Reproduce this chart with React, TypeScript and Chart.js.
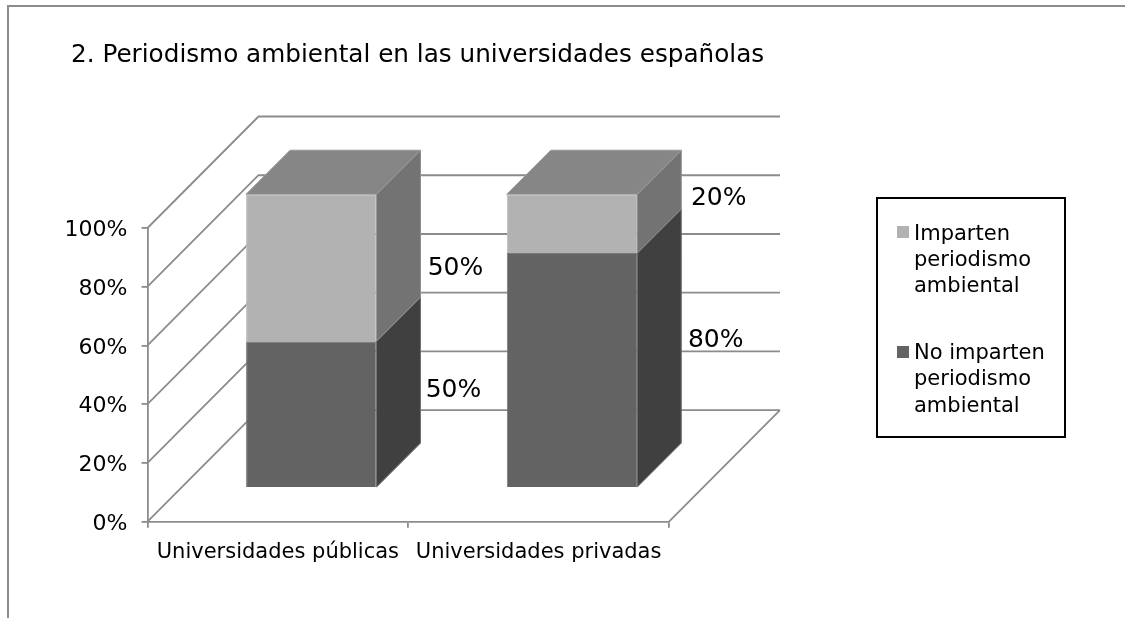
import React, { useEffect, useRef } from "react";
import { Chart, registerables } from "chart.js";

Chart.register(...registerables);

const titleText = "2. Periodismo ambiental en las universidades españolas";
const categories = ["Universidades públicas", "Universidades privadas"];
const noImparten = [50, 80];
const imparten = [50, 20];
const noLabel = ["No imparten", "periodismo", "ambiental"];
const siLabel = ["Imparten", "periodismo", "ambiental"];

const FONT = '"DejaVu Sans", Verdana, sans-serif';
const LINE = "#8c8c8c";
// projection of the chart's floor depth
const WALL_DX = 111;
const WALL_DY = -111.5;
const BAR_DX = 33.4;
const BAR_DY = -33.7;
const BAR_DEPTH = 44;
// hand-placed data label offsets from the bar segment's right/centre [dataset][category]
const labelNudge = [
  [{ x: 77, y: -24 }, { x: 78.5, y: -30 }],
  [{ x: 79, y: 1 }, { x: 81.5, y: -25.5 }],
];

function poly(ctx: CanvasRenderingContext2D, pts: number[][], fill: string) {
  ctx.beginPath();
  pts.forEach((p, i) => (i ? ctx.lineTo(p[0], p[1]) : ctx.moveTo(p[0], p[1])));
  ctx.closePath();
  ctx.fillStyle = fill;
  ctx.fill();
  ctx.lineWidth = 1;
  ctx.strokeStyle = fill;
  ctx.stroke();
  ctx.strokeStyle = "rgba(185,185,185,0.4)";
  ctx.stroke();
}

const scene = {
  id: "scene",
  afterUpdate(chart: any) {
    // the reference's value labels sit a little below their tick marks
    chart.scales.y.getLabelItems().forEach((item: any) => {
      item.options.translation[1] += 2.5;
    });
  },
  beforeDatasetsDraw(chart: any) {
    const { ctx, scales, chartArea } = chart;
    const y = scales.y;
    ctx.save();
    ctx.strokeStyle = LINE;
    ctx.lineWidth = 1.8;
    ctx.beginPath();
    y.ticks.forEach((t: any) => {
      const py = y.getPixelForValue(t.value);
      ctx.moveTo(chartArea.left, py);
      ctx.lineTo(chartArea.left + WALL_DX, py + WALL_DY);
      ctx.lineTo(chartArea.right + WALL_DX, py + WALL_DY);
    });
    // floor, right side
    const fy = y.getPixelForValue(0);
    ctx.moveTo(chartArea.right + WALL_DX, fy + WALL_DY);
    ctx.lineTo(chartArea.right, fy);
    ctx.stroke();

    // sides and tops of the blocks, taken from the bar elements
    chart.data.datasets.forEach((ds: any, di: number) => {
      const meta = chart.getDatasetMeta(di);
      meta.data.forEach((bar: any) => {
        const r = bar.x + bar.width / 2 + BAR_DX;
        const l = bar.x - bar.width / 2 + BAR_DX;
        const t = bar.y + BAR_DY;
        const b = bar.base + BAR_DY;
        const d = BAR_DEPTH;
        poly(ctx, [[r, t], [r + d, t - d], [r + d, b - d], [r, b]], ds.sideColor);
        if (di === chart.data.datasets.length - 1) {
          poly(ctx, [[l, t], [l + d, t - d], [r + d, t - d], [r, t]], ds.topColor);
        }
      });
    });
    ctx.restore();
    ctx.save();
    ctx.translate(BAR_DX, BAR_DY);
  },
  afterDatasetsDraw(chart: any) {
    const { ctx } = chart;
    ctx.restore();
    ctx.save();
    ctx.font = `25px ${FONT}`;
    ctx.fillStyle = "#000";
    ctx.textAlign = "center";
    ctx.textBaseline = "middle";
    chart.data.datasets.forEach((ds: any, di: number) => {
      chart.getDatasetMeta(di).data.forEach((bar: any, i: number) => {
        const n = labelNudge[di][i];
        const r = bar.x + bar.width / 2 + BAR_DX;
        const c = (bar.y + bar.base) / 2 + BAR_DY;
        ctx.fillText(`${ds.data[i]}%`, r + n.x, c + n.y);
      });
    });
    ctx.restore();
  },
  afterDraw(chart: any) {
    const { ctx } = chart;
    ctx.save();
    // outer frame (top and left only are visible)
    ctx.strokeStyle = LINE;
    ctx.lineWidth = 2;
    ctx.beginPath();
    ctx.moveTo(8, 618);
    ctx.lineTo(8, 6);
    ctx.lineTo(1125, 6);
    ctx.stroke();

    ctx.fillStyle = "#000";
    ctx.textBaseline = "alphabetic";
    ctx.textAlign = "left";
    ctx.font = `24.7px ${FONT}`;
    ctx.fillText(titleText, 71, 62);

    // legend
    ctx.strokeStyle = "#000";
    ctx.lineWidth = 2;
    ctx.strokeRect(877, 198, 188, 239);
    const rows = [
      { lines: siLabel, color: chart.data.datasets[1].backgroundColor, top: 226, base: 239.5 },
      { lines: noLabel, color: chart.data.datasets[0].backgroundColor, top: 346, base: 359 },
    ];
    ctx.font = `21px ${FONT}`;
    rows.forEach((row) => {
      ctx.fillStyle = row.color;
      ctx.fillRect(897, row.top, 12, 12);
      ctx.fillStyle = "#000";
      row.lines.forEach((s, i) => ctx.fillText(s, 914, row.base + i * 26.4));
    });
    ctx.restore();
  },
};

export default function App() {
  const ref = useRef<HTMLCanvasElement>(null);
  useEffect(() => {
    document.body.style.margin = "0";
    const chart = new Chart(ref.current!, {
      type: "bar",
      plugins: [scene],
      data: {
        labels: categories,
        datasets: [
          { label: noLabel.join(" "), data: noImparten, backgroundColor: "#636363", borderColor: "#7a7a7a", borderWidth: 1, sideColor: "#404040", topColor: "#868686", barPercentage: 0.5, categoryPercentage: 1 } as any,
          { label: siLabel.join(" "), data: imparten, backgroundColor: "#b2b2b2", borderColor: "#bcbcbc", borderWidth: 1, sideColor: "#737373", topColor: "#868686", barPercentage: 0.5, categoryPercentage: 1 } as any,
        ],
      },
      options: {
        responsive: false,
        animation: false,
        layout: { padding: { top: 228, right: 456, bottom: 0, left: 0 } },
        plugins: { legend: { display: false }, title: { display: false }, tooltip: { enabled: false } },
        scales: {
          x: {
            stacked: true,
            afterFit: (s: any) => { s.height = 96.3; },
            border: { color: LINE, width: 1.8 },
            grid: { drawOnChartArea: false, color: LINE, lineWidth: 1.8, tickLength: 6 },
            ticks: { color: "#000", font: { family: FONT, size: 21 }, maxRotation: 0, autoSkip: false, padding: 12 },
          },
          y: {
            stacked: true,
            min: 0,
            max: 100,
            afterFit: (s: any) => { s.width = 147.5; },
            border: { color: LINE, width: 1.8 },
            grid: { drawOnChartArea: false, color: LINE, lineWidth: 1.8, tickLength: 6 },
            ticks: { stepSize: 20, color: "#000", font: { family: FONT, size: 22 }, padding: 14, callback: (v: any) => `${v}%` },
          },
        },
      },
    });
    return () => chart.destroy();
  }, []);
  return <canvas ref={ref} width={1125} height={618} style={{ display: "block" }} />;
}
